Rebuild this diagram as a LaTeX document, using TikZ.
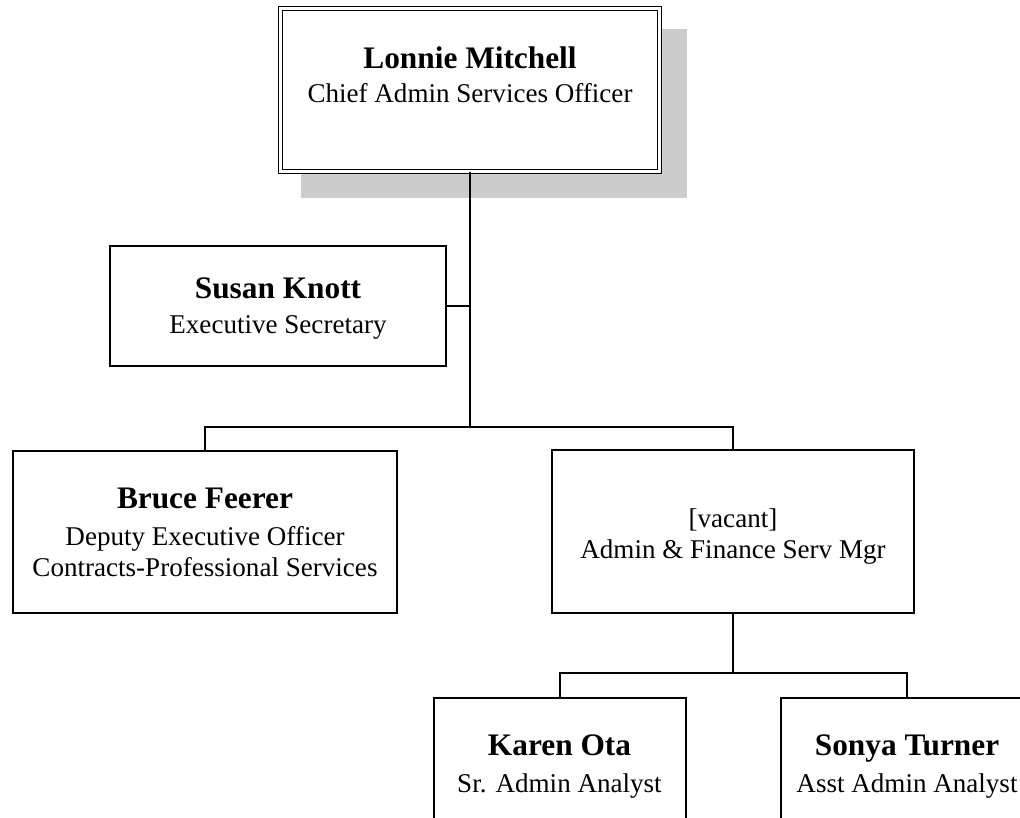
\documentclass[tikz,border=0pt]{standalone}
\usepackage{fontspec}
\setmainfont{Liberation Serif}
\usetikzlibrary{calc}

\begin{document}
\begin{tikzpicture}[x=0.75pt,y=-0.75pt,
    post/.style={draw, rectangle, line width=1.5pt, fill=white, inner sep=0pt},
    chief/.style={post, line width=1.2pt, double, double distance=1.8pt},
    who/.style={anchor=base, inner sep=0pt, font=\fontsize{23.5}{27}\selectfont\bfseries},
    job/.style={anchor=base, inner sep=0pt, align=center, font=\fontsize{20.3}{23.25}\selectfont},
    link/.style={line width=1.5pt}]
    \useasboundingbox (0,0) rectangle (1020,817);
    % shadow behind the top box
    \fill[black!20] (301,29) rectangle (687,198);
    % Top (chief)
    \node[chief, minimum width=284.25pt, minimum height=122pt] (lonnie) at (470,90) {};
    \node[post, minimum width=252pt, minimum height=90pt] (susan) at (278,306) {};
    % Middle row
    \node[post, minimum width=288pt, minimum height=121.5pt] (bruce) at (205,532) {};
    \node[post, minimum width=271.5pt, minimum height=122.25pt] (vacant) at (733,531.5) {};
    % Bottom row
    \node[post, minimum width=189pt, minimum height=121.5pt] (karen) at (559.5,779) {};
    \node[post, minimum width=189pt, minimum height=121.5pt] (sonya) at (907,779) {};
    \coordinate (bus1) at (470,427);
    \coordinate (bus2) at (733,673);
    % texts
    \node[who] (lonnie-n) at (470,69) {Lonnie Mitchell};
    \node[job] (lonnie-j) at (470,103) {Chief Admin Services Officer};
    \node[who] (susan-n) at (278,298) {Susan Knott};
    \node[job] (susan-j) at (278,333) {Executive Secretary};
    \node[who] (bruce-n) at (205,508) {Bruce Feerer};
    \node[job] (bruce-j) at (205,576) {Deputy Executive Officer\\Contracts-Professional Services};
    \node[job] (vacant-j) at (733,558) {[vacant]\\Admin \& Finance Serv Mgr};
    \node[who] (karen-n) at (559.5,755) {Karen Ota};
    \node[job] (karen-j) at (559.5,792) {Sr. Admin Analyst};
    \node[who] (sonya-n) at (907,755) {Sonya Turner};
    \node[job] (sonya-j) at (907,792) {Asst Admin Analyst};
    % lines
    \draw[link] (lonnie) -- (bus1);
    \draw[link] (susan.east) -- (susan.east -| bus1);
    \draw[link] (bruce.north) |- (bus1) -| (vacant.north);
    \draw[link] (vacant) -- (bus2);
    \draw[link] (karen.north) |- (bus2) -| (sonya.north);
\end{tikzpicture}
\end{document}
